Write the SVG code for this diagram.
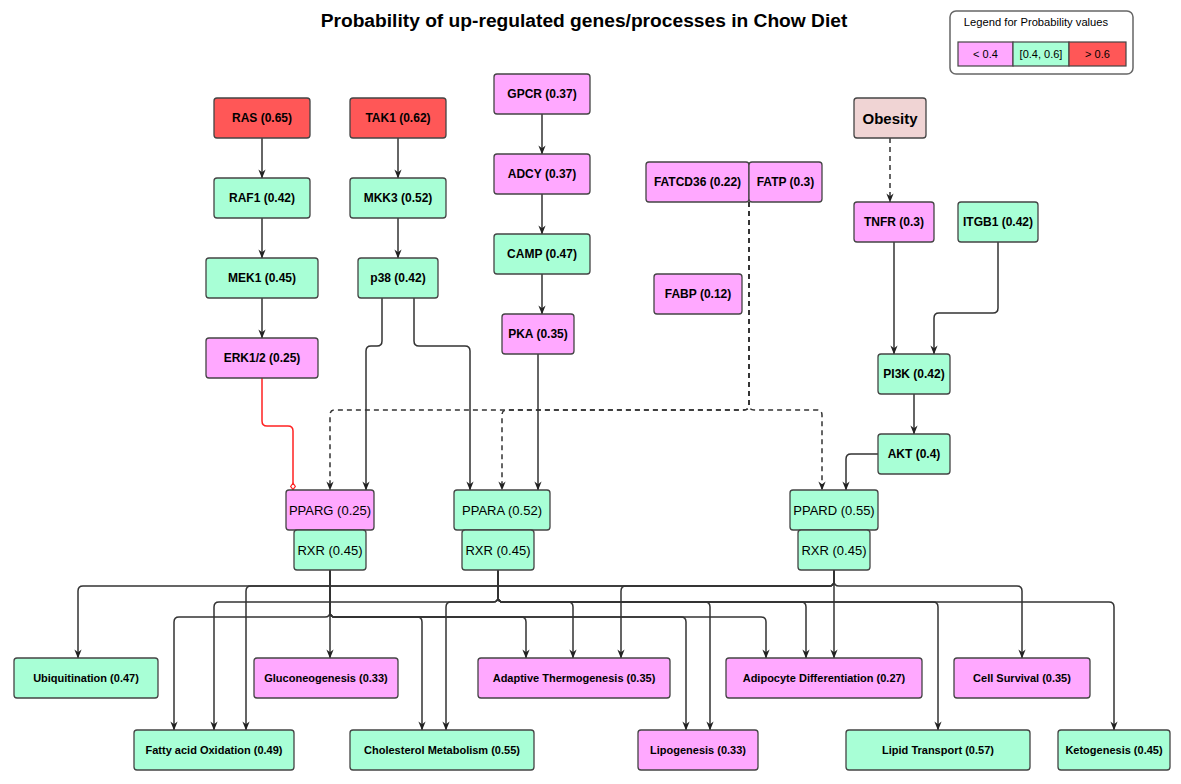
<svg xmlns="http://www.w3.org/2000/svg" width="1181" height="784" viewBox="0 0 1181 784">
<defs>
<style>
.n rect{stroke:#444;stroke-width:1.3}
.pk{fill:#FFA8FF}
.gr{fill:#A8FFD6}
.rd{fill:#FF5757}
.ob{fill:#F0D4D4}
text{font-family:"Liberation Sans",Arial,sans-serif;fill:#000;text-anchor:middle;dominant-baseline:central}
.t12{font-size:12px;font-weight:bold}
.t11{font-size:11px;font-weight:bold}
.t13{font-size:13px}
.e{fill:none;stroke:#333;stroke-width:1.5}
.d{stroke-dasharray:5 4}
</style>
<marker id="arr" viewBox="0 0 10 10" refX="9.5" refY="5" markerWidth="9" markerHeight="9" orient="auto" markerUnits="userSpaceOnUse"><path d="M0,1 L10,5 L0,9 L3,5 z" fill="#222"/></marker>
<marker id="dia" viewBox="0 0 10 10" refX="9.5" refY="5" markerWidth="8" markerHeight="8" orient="auto" markerUnits="userSpaceOnUse"><path d="M1,5 L5,2 L9,5 L5,8 z" fill="#fff" stroke="#FF2222" stroke-width="1.4"/></marker>
</defs>
<rect width="1181" height="784" fill="#fff"/>
<text x="584" y="20" style="font-size:19.2px;font-weight:bold">Probability of up-regulated genes/processes in Chow Diet</text>

<g id="legend">
<rect x="950" y="11" width="183" height="63" rx="6" fill="#fff" stroke="#666" stroke-width="1.5"/>
<text x="1036" y="22" style="font-size:11.2px">Legend for Probability values</text>
<rect x="958" y="42" width="55" height="24" class="pk" stroke="#444" stroke-width="1.2"/>
<rect x="1013" y="42" width="56" height="24" class="gr" stroke="#444" stroke-width="1.2"/>
<rect x="1069" y="42" width="57" height="24" class="rd" stroke="#444" stroke-width="1.2"/>
<text x="985.5" y="54" style="font-size:11px">&lt; 0.4</text>
<text x="1041" y="54" style="font-size:11px">[0.4, 0.6]</text>
<text x="1097.5" y="54" style="font-size:11px">&gt; 0.6</text>
</g>

<g id="connectors">
<path class="e" marker-end="url(#arr)" d="M262,138 V178"/>
<path class="e" marker-end="url(#arr)" d="M262,218 V258"/>
<path class="e" marker-end="url(#arr)" d="M262,298 V338"/>
<path class="e" marker-end="url(#arr)" d="M398,138 V178"/>
<path class="e" marker-end="url(#arr)" d="M398,218 V258"/>
<path class="e" marker-end="url(#arr)" d="M542,114 V154"/>
<path class="e" marker-end="url(#arr)" d="M542,194 V234"/>
<path class="e" marker-end="url(#arr)" d="M542,274 V314"/>
<path class="e" marker-end="url(#arr)" d="M382,298 V341 Q382,346 377,346 H371 Q366,346 366,351 V490"/>
<path class="e" marker-end="url(#arr)" d="M414,298 V341 Q414,346 419,346 H465 Q470,346 470,351 V490"/>
<path class="e" marker-end="url(#arr)" d="M538,354 V490"/>
<path fill="none" stroke="#FF2222" stroke-width="1.5" marker-end="url(#dia)" d="M262,378 V421 Q262,426 267,426 H288 Q293,426 293,431 V490"/>
<path class="e d" marker-end="url(#arr)" d="M890,138 V202"/>
<path class="e" marker-end="url(#arr)" d="M894,242 V354"/>
<path class="e" marker-end="url(#arr)" d="M998,242 V308 Q998,313 993,313 H939 Q934,313 934,318 V354"/>
<path class="e" marker-end="url(#arr)" d="M914,394 V434"/>
<path class="e" marker-end="url(#arr)" d="M878,454 H851 Q846,454 846,459 V490"/>
<path class="e d" marker-end="url(#arr)" d="M749,202 V405 Q749,410 744,410 H335 Q330,410 330,415 V490"/>
<path class="e d" marker-end="url(#arr)" d="M749,202 V405 Q749,410 744,410 H507 Q502,410 502,415 V490"/>
<path class="e d" marker-end="url(#arr)" d="M749,202 V405 Q749,410 754,410 H817 Q822,410 822,415 V490"/>

<path class="e" marker-end="url(#arr)" d="M330,570 V612 Q330,617 325,617 H179 Q174,617 174,622 V730"/>
<path class="e" marker-end="url(#arr)" d="M330,570 V658"/>
<path class="e" marker-end="url(#arr)" d="M330,570 V612 Q330,617 335,617 H417 Q422,617 422,622 V730"/>
<path class="e" marker-end="url(#arr)" d="M330,570 V612 Q330,617 335,617 H521 Q526,617 526,622 V658"/>
<path class="e" marker-end="url(#arr)" d="M330,570 V612 Q330,617 335,617 H681 Q686,617 686,622 V730"/>
<path class="e" marker-end="url(#arr)" d="M330,570 V612 Q330,617 335,617 H761 Q766,617 766,622 V658"/>

<path class="e" marker-end="url(#arr)" d="M498,570 V597 Q498,602 493,602 H219 Q214,602 214,607 V730"/>
<path class="e" marker-end="url(#arr)" d="M498,570 V597 Q498,602 493,602 H451 Q446,602 446,607 V730"/>
<path class="e" marker-end="url(#arr)" d="M498,570 V597 Q498,602 503,602 H568 Q573,602 573,607 V658"/>
<path class="e" marker-end="url(#arr)" d="M498,570 V597 Q498,602 503,602 H705 Q710,602 710,607 V730"/>
<path class="e" marker-end="url(#arr)" d="M498,570 V597 Q498,602 503,602 H801 Q806,602 806,607 V658"/>
<path class="e" marker-end="url(#arr)" d="M498,570 V597 Q498,602 503,602 H933 Q938,602 938,607 V730"/>
<path class="e" marker-end="url(#arr)" d="M498,570 V597 Q498,602 503,602 H1109 Q1114,602 1114,607 V730"/>

<path class="e" marker-end="url(#arr)" d="M834,570 V581 Q834,586 829,586 H83 Q78,586 78,591 V658"/>
<path class="e" marker-end="url(#arr)" d="M834,570 V581 Q834,586 829,586 H251 Q246,586 246,591 V730"/>
<path class="e" marker-end="url(#arr)" d="M834,570 V581 Q834,586 829,586 H626 Q621,586 621,591 V658"/>
<path class="e" marker-end="url(#arr)" d="M834,570 V658"/>
<path class="e" marker-end="url(#arr)" d="M834,570 V581 Q834,586 839,586 H1017 Q1022,586 1022,591 V658"/>
</g>

<g id="n-ras" class="n"><rect x="214" y="98" width="96" height="40" rx="3" class="rd"/><text x="262" y="118" class="t12">RAS (0.65)</text></g>
<g id="n-tak1" class="n"><rect x="350" y="98" width="96" height="40" rx="3" class="rd"/><text x="398" y="118" class="t12">TAK1 (0.62)</text></g>
<g id="n-raf1" class="n"><rect x="214" y="178" width="96" height="40" rx="3" class="gr"/><text x="262" y="198" class="t12">RAF1 (0.42)</text></g>
<g id="n-mkk3" class="n"><rect x="350" y="178" width="96" height="40" rx="3" class="gr"/><text x="398" y="198" class="t12">MKK3 (0.52)</text></g>
<g id="n-mek1" class="n"><rect x="206" y="258" width="112" height="40" rx="3" class="gr"/><text x="262" y="278" class="t12">MEK1 (0.45)</text></g>
<g id="n-p38" class="n"><rect x="358" y="258" width="80" height="40" rx="3" class="gr"/><text x="398" y="278" class="t12">p38 (0.42)</text></g>
<g id="n-erk" class="n"><rect x="206" y="338" width="112" height="40" rx="3" class="pk"/><text x="262" y="358" class="t12">ERK1/2 (0.25)</text></g>
<g id="n-gpcr" class="n"><rect x="494" y="74" width="96" height="40" rx="3" class="pk"/><text x="542" y="94" class="t12">GPCR (0.37)</text></g>
<g id="n-adcy" class="n"><rect x="494" y="154" width="96" height="40" rx="3" class="pk"/><text x="542" y="174" class="t12">ADCY (0.37)</text></g>
<g id="n-camp" class="n"><rect x="494" y="234" width="96" height="40" rx="3" class="gr"/><text x="542" y="254" class="t12">CAMP (0.47)</text></g>
<g id="n-pka" class="n"><rect x="502" y="314" width="72" height="40" rx="3" class="pk"/><text x="538" y="334" class="t12">PKA (0.35)</text></g>
<g id="n-fatcd36" class="n"><rect x="646" y="162" width="103" height="40" rx="3" class="pk"/><text x="697.5" y="182" class="t12">FATCD36 (0.22)</text></g>
<g id="n-fatp" class="n"><rect x="749" y="162" width="73" height="40" rx="3" class="pk"/><text x="785.5" y="182" class="t12">FATP (0.3)</text></g>
<g id="n-fabp" class="n"><rect x="654" y="274" width="88" height="40" rx="3" class="pk"/><text x="698" y="294" class="t12">FABP (0.12)</text></g>
<g id="n-obesity" class="n"><rect x="854" y="98" width="72" height="40" rx="3" class="ob"/><text x="890" y="118" style="font-size:15px;font-weight:bold">Obesity</text></g>
<g id="n-tnfr" class="n"><rect x="854" y="202" width="80" height="40" rx="3" class="pk"/><text x="894" y="222" class="t12">TNFR (0.3)</text></g>
<g id="n-itgb1" class="n"><rect x="958" y="202" width="80" height="40" rx="3" class="gr"/><text x="998" y="222" class="t12">ITGB1 (0.42)</text></g>
<g id="n-pi3k" class="n"><rect x="878" y="354" width="72" height="40" rx="3" class="gr"/><text x="914" y="374" class="t12">PI3K (0.42)</text></g>
<g id="n-akt" class="n"><rect x="878" y="434" width="72" height="40" rx="3" class="gr"/><text x="914" y="454" class="t12">AKT (0.4)</text></g>

<g id="n-pparg" class="n"><rect x="286" y="490" width="88" height="40" rx="3" class="pk"/><text x="330" y="510" class="t13">PPARG (0.25)</text></g>
<g id="n-rxr1" class="n"><rect x="294" y="530" width="72" height="40" rx="3" class="gr"/><text x="330" y="550" class="t13">RXR (0.45)</text></g>
<g id="n-ppara" class="n"><rect x="454" y="490" width="96" height="40" rx="3" class="gr"/><text x="502" y="510" class="t13">PPARA (0.52)</text></g>
<g id="n-rxr2" class="n"><rect x="462" y="530" width="72" height="40" rx="3" class="gr"/><text x="498" y="550" class="t13">RXR (0.45)</text></g>
<g id="n-ppard" class="n"><rect x="790" y="490" width="88" height="40" rx="3" class="gr"/><text x="834" y="510" class="t13">PPARD (0.55)</text></g>
<g id="n-rxr3" class="n"><rect x="798" y="530" width="72" height="40" rx="3" class="gr"/><text x="834" y="550" class="t13">RXR (0.45)</text></g>

<g id="n-ubiq" class="n"><rect x="14" y="658" width="144" height="40" rx="3" class="gr"/><text x="86" y="678" class="t11">Ubiquitination (0.47)</text></g>
<g id="n-gluco" class="n"><rect x="254" y="658" width="144" height="40" rx="3" class="pk"/><text x="326" y="678" class="t11">Gluconeogenesis (0.33)</text></g>
<g id="n-adapt" class="n"><rect x="478" y="658" width="192" height="40" rx="3" class="pk"/><text x="574" y="678" class="t11">Adaptive Thermogenesis (0.35)</text></g>
<g id="n-adipo" class="n"><rect x="726" y="658" width="196" height="40" rx="3" class="pk"/><text x="824" y="678" class="t11">Adipocyte Differentiation (0.27)</text></g>
<g id="n-cell" class="n"><rect x="954" y="658" width="136" height="40" rx="3" class="pk"/><text x="1022" y="678" class="t11">Cell Survival (0.35)</text></g>
<g id="n-fao" class="n"><rect x="134" y="730" width="160" height="40" rx="3" class="gr"/><text x="214" y="750" class="t11">Fatty acid Oxidation (0.49)</text></g>
<g id="n-chol" class="n"><rect x="350" y="730" width="184" height="40" rx="3" class="gr"/><text x="442" y="750" class="t11">Cholesterol Metabolism (0.55)</text></g>
<g id="n-lipo" class="n"><rect x="638" y="730" width="120" height="40" rx="3" class="pk"/><text x="698" y="750" class="t11">Lipogenesis (0.33)</text></g>
<g id="n-lipid" class="n"><rect x="846" y="730" width="184" height="40" rx="3" class="gr"/><text x="938" y="750" class="t11">Lipid Transport (0.57)</text></g>
<g id="n-keto" class="n"><rect x="1058" y="730" width="112" height="40" rx="3" class="gr"/><text x="1114" y="750" class="t11">Ketogenesis (0.45)</text></g>
</svg>
